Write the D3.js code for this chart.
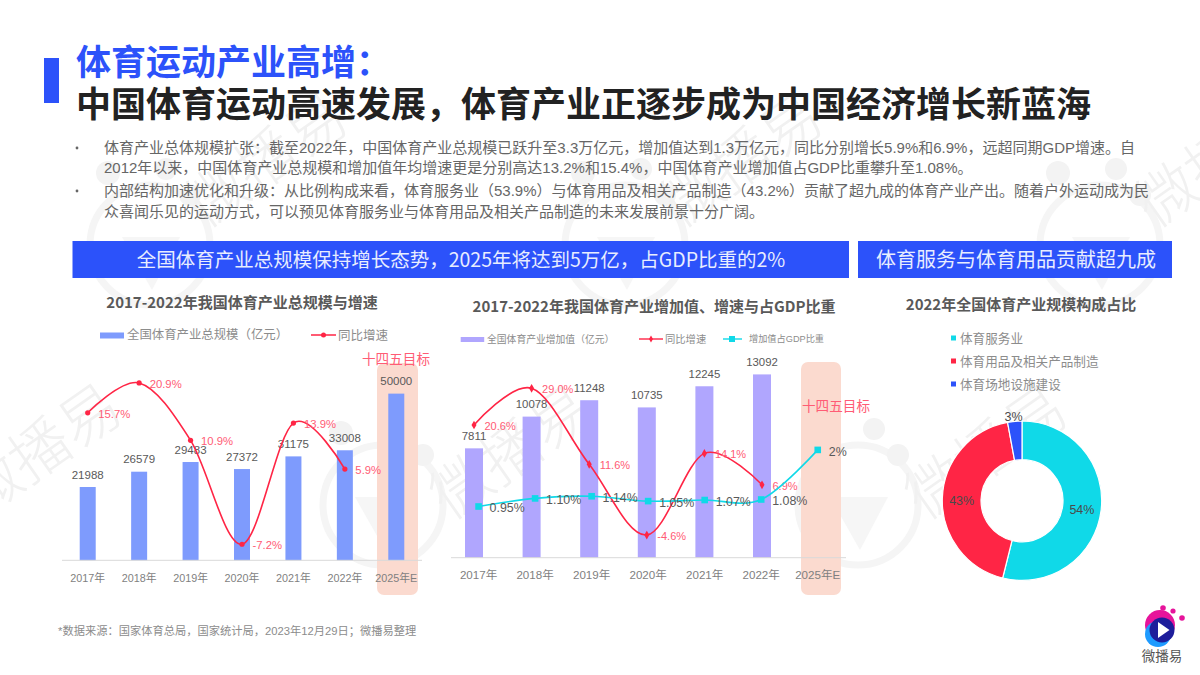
<!DOCTYPE html>
<html>
<head>
<meta charset="UTF-8">
<title>体育运动产业高增</title>
<script src="https://cdn.jsdelivr.net/npm/d3@7"></script>
<style>
  html, body { margin: 0; padding: 0; background: #fff; }
  svg { display: block; }
  text { font-family: "Liberation Sans", "Noto Sans CJK SC", sans-serif; }
  .cjk { font-family: "Noto Sans CJK SC", sans-serif; }
</style>
</head>
<body>
<svg width="1200" height="675" viewBox="0 0 1200 675"></svg>
<script>
  var years = ["2017年", "2018年", "2019年", "2020年", "2021年", "2022年", "2025年E"];

  // left chart
  var totalScale = [21988, 26579, 29483, 27372, 31175, 33008, 50000];
  var totalGrowth = [15.7, 20.9, 10.9, -7.2, 13.9, 5.9];

  // middle chart
  var addedValue = [7811, 10078, 11248, 10735, 12245, 13092];
  var addedGrowth = [20.6, 29.0, 11.6, -4.6, 14.1, 6.9];
  var gdpShare = [0.95, 1.10, 1.14, 1.05, 1.07, 1.08, 2];
  var gdpShareLabels = ["0.95%", "1.10%", "1.14%", "1.05%", "1.07%", "1.08%", "2%"];

  // right chart
  var shareNames = ["体育服务业", "体育用品及相关产品制造", "体育场地设施建设"];
  var shareValues = [53.9, 43.2, 2.9];

  var titleBlue = "体育运动产业高增：";
  var titleBlack = "中国体育运动高速发展，体育产业正逐步成为中国经济增长新蓝海";
  var bodyLines = [
    "体育产业总体规模扩张：截至2022年，中国体育产业总规模已跃升至3.3万亿元，增加值达到1.3万亿元，同比分别增长5.9%和6.9%，远超同期GDP增速。自",
    "2012年以来，中国体育产业总规模和增加值年均增速更是分别高达13.2%和15.4%，中国体育产业增加值占GDP比重攀升至1.08%。",
    "内部结构加速优化和升级：从比例构成来看，体育服务业（53.9%）与体育用品及相关产品制造（43.2%）贡献了超九成的体育产业产出。随着户外运动成为民",
    "众喜闻乐见的运动方式，可以预见体育服务业与体育用品及相关产品制造的未来发展前景十分广阔。"
  ];
  var bodyY = [148, 168, 191, 212];

  var BLUE = "#2c52fa", RED = "#ff2545", CYAN = "#10d9e8";
  var PINK_TEXT = "#ff5c75", GREY_TEXT = "#595959", LIGHT_TEXT = "#8c8c8c";
  var PEACH = "#fbdacf";

  var svg = d3.select("svg");

  function addText(parent, x, y, str, size, fill, anchor, weight) {
    return parent.append("text")
      .attr("x", x)
      .attr("y", y)
      .attr("dy", "0.36em")
      .attr("font-size", size)
      .attr("fill", fill)
      .attr("text-anchor", anchor || "start")
      .attr("font-weight", weight || "normal")
      .text(str);
  }

  // watermarks, very faint, sit behind everything
  var mark = svg.append("g");
  [[150, 245], [625, 245], [1100, 245], [383, 505], [858, 505]].forEach(function (c) {
    var g = mark.append("g").attr("transform", "translate(" + c[0] + "," + c[1] + ")");
    g.append("circle").attr("r", 60).attr("fill", "none").attr("stroke", "#f5f5f5").attr("stroke-width", 7);
    g.append("path").attr("d", "M-28,-8L30,-8L2,45Z").attr("fill", "#f6f6f6");
    g.append("circle").attr("cx", -42).attr("cy", -72).attr("r", 12).attr("fill", "#f3f3f3");
    g.append("circle").attr("cx", 16).attr("cy", -76).attr("r", 11).attr("fill", "#f3f3f3");
    g.append("circle").attr("cx", 40).attr("cy", -50).attr("r", 11).attr("fill", "#f3f3f3");
  });
  [[40, 450], [511, 452], [986, 452], [266, 160], [741, 160], [1216, 160]].forEach(function (c) {
    mark.append("text")
      .attr("class", "cjk")
      .attr("transform", "translate(" + c[0] + "," + c[1] + ") rotate(-35)")
      .attr("text-anchor", "middle")
      .attr("dy", "0.36em")
      .attr("font-size", 60)
      .attr("font-weight", 300)
      .attr("fill", "#f1f1f1")
      .text("微播易");
  });

  // header
  svg.append("rect").attr("x", 44).attr("y", 58).attr("width", 15).attr("height", 45).attr("fill", BLUE);
  addText(svg, 76, 62, titleBlue, 35, BLUE, "start", "bold").attr("class", "cjk");
  addText(svg, 76, 104, titleBlack, 35, "#222222", "start", "bold").attr("class", "cjk");

  bodyLines.forEach(function (line, i) {
    addText(svg, 104, bodyY[i], line, 15, "#666666");
  });
  [148, 191].forEach(function (y) {
    svg.append("circle").attr("cx", 77).attr("cy", y).attr("r", 1.4).attr("fill", "#666666");
  });

  // banners
  svg.append("rect").attr("x", 72.5).attr("y", 241).attr("width", 776.5).attr("height", 37).attr("fill", BLUE);
  addText(svg, 461, 259.5, "全国体育产业总规模保持增长态势，2025年将达到5万亿，占GDP比重的2%", 19.5, "#e8edff", "middle").attr("class", "cjk");
  svg.append("rect").attr("x", 858).attr("y", 241).attr("width", 314).attr("height", 37).attr("fill", BLUE);
  addText(svg, 1016, 259.5, "体育服务与体育用品贡献超九成", 20, "#e8edff", "middle").attr("class", "cjk");

  addText(svg, 58, 631, "*数据来源：国家体育总局，国家统计局，2023年12月29日；微播易整理", 11.25, LIGHT_TEXT);

  var smooth = d3.curveCatmullRom.alpha(0);

  function drawAxis(scale, y, size, x0, x1) {
    var g = svg.append("g").attr("transform", "translate(0," + y + ")");
    g.call(d3.axisBottom(scale).tickSize(0).tickPadding(0));
    g.select(".domain").remove();
    g.append("line").attr("x1", x0).attr("x2", x1).attr("stroke", "#d9d9d9");
    g.selectAll(".tick text")
      .attr("y", 17.5)
      .attr("dy", "0.36em")
      .attr("font-size", size)
      .attr("font-family", '"Liberation Sans", "Noto Sans CJK SC", sans-serif')
      .attr("fill", "#7f7f7f");
  }

  function drawGrowthLabels(x, y, cats, values, size) {
    values.forEach(function (v, i) {
      addText(svg, x(cats[i]) + x.bandwidth() / 2 + 10.5, y(v) + 1, v.toFixed(1) + "%", size, PINK_TEXT);
    });
  }

  function centerOf(x) {
    return function (d, i) { return x(years[i]) + x.bandwidth() / 2; };
  }

  // ---- left chart ----
  addText(svg, 242, 303, "2017-2022年我国体育产业总规模与增速", 15, GREY_TEXT, "middle", "bold").attr("class", "cjk");
  svg.append("rect").attr("x", 100).attr("y", 332.5).attr("width", 24).attr("height", 6).attr("fill", "#7e9bfd");
  addText(svg, 127, 335, "全国体育产业总规模（亿元）", 12.4, LIGHT_TEXT);
  svg.append("line").attr("x1", 311).attr("x2", 336).attr("y1", 335).attr("y2", 335).attr("stroke", RED).attr("stroke-width", 1.5);
  svg.append("circle").attr("cx", 323.5).attr("cy", 335).attr("r", 2.5).attr("fill", RED);
  addText(svg, 338, 335, "同比增速", 12.5, LIGHT_TEXT);

  svg.append("rect").attr("x", 377).attr("y", 363).attr("width", 41).attr("height", 232).attr("rx", 7).attr("fill", PEACH);
  addText(svg, 396, 359, "十四五目标", 13.6, PINK_TEXT, "middle");

  var x1 = d3.scaleBand().domain(years).range([62, 422]);
  var y1 = d3.scaleLinear().domain([0, 60000]).range([560.3, 360.3]);
  var y1g = d3.scaleLinear().domain([-10, 30]).range([560.3, 330.7]);

  svg.append("g").selectAll("rect").data(totalScale).enter().append("rect")
    .attr("x", function (d, i) { return x1(years[i]) + x1.bandwidth() / 2 - 8; })
    .attr("y", function (d) { return y1(d); })
    .attr("width", 16)
    .attr("height", function (d) { return y1(0) - y1(d); })
    .attr("fill", "#7e9bfd");
  drawAxis(x1, 560.3, 10.8, 62, 422);
  totalScale.forEach(function (v, i) {
    addText(svg, centerOf(x1)(v, i), y1(v) - 12.5, String(v), 11.5, GREY_TEXT, "middle");
  });

  svg.append("path")
    .attr("d", d3.line().x(centerOf(x1)).y(function (d) { return y1g(d); }).curve(smooth)(totalGrowth))
    .attr("fill", "none").attr("stroke", RED).attr("stroke-width", 1.6);
  svg.append("g").selectAll("circle").data(totalGrowth).enter().append("circle")
    .attr("cx", centerOf(x1)).attr("cy", function (d) { return y1g(d); }).attr("r", 2.6).attr("fill", RED);
  drawGrowthLabels(x1, y1g, years, totalGrowth, 11.3);

  // ---- middle chart ----
  addText(svg, 654, 307, "2017-2022年我国体育产业增加值、增速与占GDP比重", 15, GREY_TEXT, "middle", "bold").attr("class", "cjk");
  svg.append("rect").attr("x", 460.7).attr("y", 337).attr("width", 23.5).attr("height", 5).attr("fill", "#b0a6fe");
  addText(svg, 487, 339, "全国体育产业增加值（亿元）", 9.8, LIGHT_TEXT);
  svg.append("line").attr("x1", 639).attr("x2", 663).attr("y1", 339).attr("y2", 339).attr("stroke", RED).attr("stroke-width", 1.4);
  svg.append("path").attr("d", d3.symbol(d3.symbolDiamond, 14)()).attr("transform", "translate(651,339)").attr("fill", RED);
  addText(svg, 665, 339, "同比增速", 10.3, LIGHT_TEXT);
  svg.append("line").attr("x1", 723).attr("x2", 742).attr("y1", 339).attr("y2", 339).attr("stroke", CYAN).attr("stroke-width", 1.4);
  svg.append("rect").attr("x", 729).attr("y", 336).attr("width", 6).attr("height", 6).attr("fill", CYAN);
  addText(svg, 749, 339, "增加值占GDP比重", 9.2, LIGHT_TEXT);

  svg.append("rect").attr("x", 801).attr("y", 362).attr("width", 40).attr("height", 233).attr("rx", 7).attr("fill", PEACH);
  addText(svg, 836, 406.5, "十四五目标", 13.6, PINK_TEXT, "middle");

  // bars and the red line sit on one category axis, the share line on the other
  var x2 = d3.scaleBand().domain(years).range([445.2, 848.4]);
  var x2b = d3.scaleBand().domain(years).range([450.3, 846]);
  var y2 = d3.scaleLinear().domain([0, 15000]).range([557.7, 347.7]);
  var y2g = d3.scaleLinear().domain([-10, 40]).range([558.6, 340.3]);
  var y2s = d3.scaleLinear().domain([0, 2.5]).range([557.7, 422.95]);

  svg.append("g").selectAll("rect").data(addedValue).enter().append("rect")
    .attr("x", function (d, i) { return x2(years[i]) + x2.bandwidth() / 2 - 9; })
    .attr("y", function (d) { return y2(d); })
    .attr("width", 18)
    .attr("height", function (d) { return y2(0) - y2(d); })
    .attr("fill", "#b0a6fe");
  drawAxis(x2b, 557.7, 11.6, 451, 846);
  addedValue.forEach(function (v, i) {
    addText(svg, centerOf(x2)(v, i), y2(v) - 12.6, String(v), 11.4, GREY_TEXT, "middle");
  });

  svg.append("path")
    .attr("d", d3.line().x(centerOf(x2)).y(function (d) { return y2g(d); }).curve(smooth)(addedGrowth))
    .attr("fill", "none").attr("stroke", RED).attr("stroke-width", 1.6);
  svg.append("g").selectAll("path").data(addedGrowth).enter().append("path")
    .attr("d", d3.symbol(d3.symbolDiamond, 22)())
    .attr("transform", function (d, i) { return "translate(" + centerOf(x2)(d, i) + "," + y2g(d) + ")"; })
    .attr("fill", RED);
  drawGrowthLabels(x2, y2g, years, addedGrowth, 11);

  svg.append("path")
    .attr("d", d3.line().x(centerOf(x2b)).y(function (d) { return y2s(d); }).curve(smooth)(gdpShare))
    .attr("fill", "none").attr("stroke", CYAN).attr("stroke-width", 1.6);
  svg.append("g").selectAll("rect").data(gdpShare).enter().append("rect")
    .attr("x", function (d, i) { return centerOf(x2b)(d, i) - 3.3; })
    .attr("y", function (d) { return y2s(d) - 3.3; })
    .attr("width", 6.6).attr("height", 6.6).attr("fill", CYAN);
  gdpShare.forEach(function (v, i) {
    addText(svg, centerOf(x2b)(v, i) + 11, y2s(v) + 1.5, gdpShareLabels[i], 12.4, GREY_TEXT);
  });

  // ---- right chart ----
  addText(svg, 1021, 305, "2022年全国体育产业规模构成占比", 15, GREY_TEXT, "middle", "bold").attr("class", "cjk");
  var shareColors = d3.scaleOrdinal().domain(shareNames).range([CYAN, RED, BLUE]);
  var legendY = d3.scalePoint().domain(shareNames).range([338, 384]);
  shareNames.forEach(function (name) {
    svg.append("rect").attr("x", 951).attr("y", legendY(name) - 2.5).attr("width", 5).attr("height", 5).attr("fill", shareColors(name));
    addText(svg, 960, legendY(name), name, 12.6, LIGHT_TEXT);
  });

  var pie = d3.pie().sort(null);
  var arc = d3.arc().innerRadius(41).outerRadius(79.7);
  var donut = svg.append("g").attr("transform", "translate(1022,500.7)");
  var slices = pie(shareValues);
  donut.selectAll("path").data(slices).enter().append("path")
    .attr("d", arc)
    .attr("fill", function (d, i) { return shareColors(shareNames[i]); })
    .attr("stroke", "#fff")
    .attr("stroke-width", 1.2);
  slices.forEach(function (s, i) {
    var c = i === 2 ? [-8.5, -84] : arc.centroid(s);
    addText(donut, c[0], c[1] + (i === 2 ? 0 : 1.5), Math.round(s.value) + "%", 12.5, "#4a4a4a", "middle");
  });

  // logo, bottom right
  var logo = svg.append("g");
  logo.append("circle").attr("cx", 1160).attr("cy", 625).attr("r", 15).attr("fill", "#e6149b");
  logo.append("circle").attr("cx", 1158).attr("cy", 634).attr("r", 13).attr("fill", "#1e9bff");
  logo.append("circle").attr("cx", 1162).attr("cy", 630).attr("r", 12.5).attr("fill", "#1d1d9b");
  logo.append("path").attr("d", "M1158,622L1158,638L1169.5,630Z").attr("fill", "#fff");
  [[1163, 608, 2.8], [1173, 611, 2.6], [1182, 618, 2.8]].forEach(function (c) {
    logo.append("circle").attr("cx", c[0]).attr("cy", c[1]).attr("r", c[2]).attr("fill", "#e6149b");
  });
  addText(svg, 1162, 656.5, "微播易", 13.5, "#555555", "middle").attr("class", "cjk");
</script>
</body>
</html>
